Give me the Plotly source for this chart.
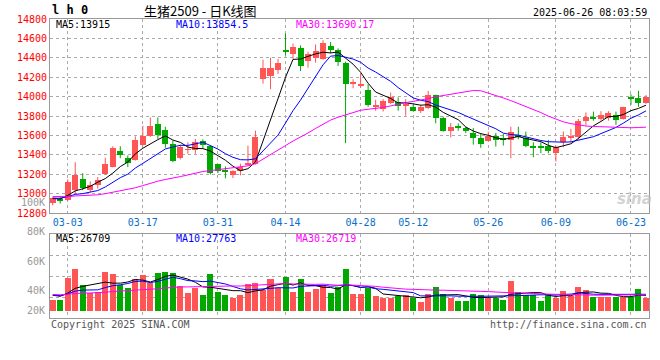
import plotly.graph_objects as go
import pandas as pd

# ---------------- data ----------------
dates = ["02-27", "02-28",
         "03-03", "03-04", "03-05", "03-06", "03-07", "03-10", "03-11", "03-12", "03-13", "03-14",
         "03-17", "03-18", "03-19", "03-20", "03-21", "03-24", "03-25", "03-26", "03-27", "03-28", "03-31",
         "04-01", "04-02", "04-03", "04-07", "04-08", "04-09", "04-10", "04-11", "04-14", "04-15", "04-16",
         "04-17", "04-18", "04-21", "04-22", "04-23", "04-24", "04-25", "04-28", "04-29", "04-30",
         "05-06", "05-07", "05-08", "05-09", "05-12", "05-13", "05-14", "05-15", "05-16", "05-19", "05-20",
         "05-21", "05-22", "05-23", "05-26", "05-27", "05-28", "05-29", "05-30",
         "06-03", "06-04", "06-05", "06-06", "06-09", "06-10", "06-11", "06-12", "06-13", "06-16", "06-17",
         "06-18", "06-19", "06-20", "06-23", "06-24", "06-25"]

opens = [12903, 12949, 12931, 13038, 13154, 13034, 13085, 13205, 13275, 13444,
         13369, 13349, 13500, 13591, 13720, 13656, 13513, 13372, 13450, 13451,
         13547, 13495, 13301, 13239, 13190, 13235, 13305, 13308, 14179, 14213,
         14275, 14480, 14442, 14504, 14367, 14401, 14385, 14521, 14477, 14350,
         14128, 14118, 14067, 13900, 13872, 13933, 13947, 13912, 13895, 13854,
         13878, 14016, 13779, 13642, 13686, 13673, 13622, 13574, 13547, 13598,
         13574, 13554, 13608, 13574, 13495, 13480, 13495, 13416, 13529, 13578,
         13588, 13745, 13793, 13769, 13779, 13813, 13769, 13998, 13981, 13930]
highs = [12960, 12972, 13147, 13324, 13211, 13126, 13170, 13370, 13488, 13488,
         13393, 13590, 13700, 13786, 13786, 13690, 13547, 13503, 13529, 13564,
         13560, 13500, 13305, 13280, 13240, 13308, 13495, 13649, 14380, 14401,
         14388, 14650, 14547, 14528, 14463, 14538, 14582, 14562, 14497, 14360,
         14179, 14237, 14128, 13967, 13974, 14042, 13991, 13974, 13916, 13916,
         14060, 14020, 13795, 13728, 13724, 13690, 13677, 13622, 13639, 13625,
         13615, 13690, 13690, 13639, 13529, 13529, 13554, 13495, 13640, 13667,
         13770, 13837, 13845, 13850, 13850, 13845, 13895, 14025, 14060, 14016]
lows = [12880, 12897, 12925, 13000, 13034, 13016, 13051, 13195, 13270, 13365,
        13273, 13340, 13495, 13585, 13564, 13472, 13324, 13352, 13410, 13410,
        13462, 13198, 13211, 13157, 13160, 13188, 13290, 13300, 14134, 14077,
        14234, 14425, 14391, 14265, 14298, 14350, 14380, 14446, 14316, 13520,
        14087, 14093, 13895, 13854, 13847, 13925, 13854, 13803, 13847, 13830,
        13870, 13724, 13639, 13580, 13649, 13625, 13505, 13472, 13540, 13485,
        13495, 13365, 13560, 13478, 13375, 13416, 13416, 13331, 13478, 13529,
        13560, 13700, 13752, 13752, 13752, 13708, 13765, 13916, 13895, 13925]
closes = [12956, 12924, 13119, 13190, 13058, 13085, 13136, 13305, 13470, 13397,
          13320, 13554, 13598, 13700, 13608, 13513, 13341, 13478, 13458, 13536,
          13505, 13215, 13236, 13228, 13230, 13270, 13320, 13588, 14298, 14298,
          14343, 14465, 14514, 14316, 14436, 14470, 14550, 14480, 14360, 14125,
          14155, 14134, 13916, 13905, 13957, 13991, 13906, 13918, 13854, 13888,
          14016, 13779, 13649, 13683, 13682, 13642, 13570, 13513, 13598, 13554,
          13560, 13639, 13591, 13495, 13478, 13476, 13444, 13478, 13588, 13582,
          13752, 13793, 13779, 13813, 13834, 13759, 13895, 13974, 13930, 13998]
volumes = [18400, 18400, 56800, 71700, 44200, 29800, 32700, 67100, 63100, 44200,
           39600, 54500, 61400, 47000, 65400, 67100, 65400, 42500, 31000, 38400,
           27000, 63100, 32700, 27000, 22400, 27000, 45900, 48200, 35600, 54500,
           39600, 58000, 32700, 54500, 32700, 37300, 44200, 31000, 40100, 71700,
           28700, 28700, 38400, 25300, 22400, 22400, 25300, 27000, 21200, 15500,
           28700, 41300, 28700, 22400, 17200, 17200, 28700, 27000, 22400, 22400,
           18400, 51100, 32700, 27000, 27000, 17200, 28700, 22400, 34400, 25800,
           41300, 35600, 24100, 24100, 24100, 24100, 24100, 24100, 37300, 22400]
# sessions before the visible window (only used to seed the moving averages)
pre_closes = [13050, 13020, 12990, 13010, 12970, 12940, 12960, 12985, 13000, 12975,
              12950, 12930, 12955, 12980, 12995, 12970, 12945, 12960, 12990, 12975,
              12955, 12940, 12965, 12980, 12960, 12945, 12935, 12960, 12950]
pre_volumes = [30000, 26000, 31000, 28000, 25000, 33000, 29000, 27000, 24000, 30000,
               28000, 26000, 32000, 29000, 27000, 25000, 30000, 28000, 26000, 31000,
               29000, 27000, 24000, 26000, 30000, 28000, 29000, 31000, 27000]

tick_dates = ["03-03", "03-17", "03-31", "04-14", "04-28", "05-12", "05-26", "06-09", "06-23"]
price_ticks = [12800, 13000, 13200, 13400, 13600, 13800, 14000, 14200, 14400, 14600, 14800]
vol_tick_labels = ["100K", "80K", "60K", "40K", "20K"]
ma_price_labels = ["MA5:13915", "MA10:13854.5", "MA30:13690.17"]
ma_vol_labels = ["MA5:26709", "MA10:27763", "MA30:26719"]

# ---------------- derived ----------------
n_pre = len(pre_closes)
cs = pd.Series(pre_closes + closes)
vs = pd.Series(pre_volumes + volumes)
ma_c = {k: cs.rolling(k).mean().iloc[n_pre:].tolist() for k in (5, 10, 30)}
ma_v = {k: vs.rolling(k).mean().iloc[n_pre:].tolist() for k in (5, 10, 30)}
idx = list(range(len(dates)))

RED = "#ff5555"
GREEN = "#00a800"
MA_COL = {5: "#000000", 10: "#0000ff", 30: "#ff00ff"}
MONO = "DejaVu Sans Mono, Liberation Mono, monospace"

# ---------------- geometry ----------------
W, H = 660, 360
L, R, T, B = 50, 11, 19, 42
PW, PH = W - L - R, H - T - B


def py(ypx):
    return (H - B - ypx) / PH


def pxp(xpx):
    return (xpx - L) / PW


fig = go.Figure()

# wicks
for col, cond in ((RED, lambda o, c: c >= o), (GREEN, lambda o, c: c < o)):
    wx, wy = [], []
    for i in idx:
        if cond(opens[i], closes[i]):
            wx += [i, i, None]
            wy += [lows[i], highs[i], None]
    fig.add_trace(go.Scatter(x=wx, y=wy, mode="lines", line=dict(color=col, width=1),
                             hoverinfo="skip", showlegend=False, xaxis="x", yaxis="y"))

# bodies
body_base = [min(o, c) for o, c in zip(opens, closes)]
body_h = [max(abs(c - o), 9) for o, c in zip(opens, closes)]
body_col = [RED if c >= o else GREEN for o, c in zip(opens, closes)]
fig.add_trace(go.Bar(x=idx, y=body_h, base=body_base, width=0.8,
                     marker=dict(color=body_col, line=dict(width=0)),
                     showlegend=False, xaxis="x", yaxis="y"))

# price MAs
for k in (5, 10, 30):
    fig.add_trace(go.Scatter(x=idx, y=ma_c[k], mode="lines",
                             line=dict(color=MA_COL[k], width=1),
                             showlegend=False, xaxis="x", yaxis="y"))

# volume bars
fig.add_trace(go.Bar(x=idx, y=volumes, width=0.8,
                     marker=dict(color=body_col, line=dict(width=0)),
                     showlegend=False, xaxis="x2", yaxis="y2"))
for k in (5, 10, 30):
    fig.add_trace(go.Scatter(x=idx, y=ma_v[k], mode="lines",
                             line=dict(color=MA_COL[k], width=1),
                             showlegend=False, xaxis="x2", yaxis="y2"))

tickvals = [dates.index(d) for d in tick_dates]
xr = [-0.36, 79.4]
vol_range = [-12556, 131924]
vol_grid = [vol_range[0] + q * (vol_range[1] - vol_range[0]) / 4 for q in (1, 2, 3)]

grid = dict(showgrid=True, gridcolor="#aaaaaa", griddash="dot", gridwidth=1)
border = dict(showline=True, linecolor="#999999", linewidth=1, mirror=True, zeroline=False)

fig.update_layout(
    width=W, height=H, margin=dict(l=L, r=R, t=T, b=B),
    paper_bgcolor="white", plot_bgcolor="white", bargap=0, barmode="overlay",
    xaxis=dict(domain=[0, 1], range=xr, tickvals=tickvals, ticktext=tick_dates,
               tickfont=dict(family=MONO, size=10, color="#0a6fc8"), ticks="",
               anchor="y", **grid, **border),
    yaxis=dict(domain=[py(213), 1], range=[12800, 14800], tickvals=price_ticks,
               ticktext=[str(v) for v in price_ticks],
               tickfont=dict(family=MONO, size=10, color="#ff0000"), ticks="",
               anchor="x", **grid, **border),
    xaxis2=dict(domain=[0, 1], range=xr, tickvals=tickvals, showticklabels=False,
                ticks="", anchor="y2", **grid, **border),
    yaxis2=dict(domain=[0, py(234)], range=vol_range, tickvals=vol_grid,
                showticklabels=False, ticks="", anchor="x2", **grid, **border),
    font=dict(family=MONO, size=10),
)

ann = []
# header
ann.append(dict(text="<b>l h 0</b>", x=pxp(50), y=py(10.5), xanchor="left", yanchor="middle",
                font=dict(family=MONO, size=12, color="black")))
ann.append(dict(text="生猪2509 - 日K线图", x=pxp(200), y=py(10.5), xanchor="center", yanchor="middle",
                font=dict(family="Noto Sans CJK SC", size=13, color="black")))
ann.append(dict(text="2025-06-26 08:03:59", x=pxp(649), y=py(12), xanchor="right", yanchor="middle",
                font=dict(family=MONO, size=10, color="black")))
# MA labels
for lab, xp, k in zip(ma_price_labels, (54, 174, 294), (5, 10, 30)):
    ann.append(dict(text=lab, x=pxp(xp), y=py(25), xanchor="left", yanchor="middle",
                    font=dict(family=MONO, size=10, color=MA_COL[k])))
for lab, xp, k in zip(ma_vol_labels, (54, 174, 294), (5, 10, 30)):
    ann.append(dict(text=lab, x=pxp(xp), y=py(238.5), xanchor="left", yanchor="middle",
                    font=dict(family=MONO, size=10, color=MA_COL[k])))
# volume axis labels
for lab, ypx in zip(vol_tick_labels, (202, 231, 261, 290, 310)):
    ann.append(dict(text=lab, x=pxp(47), y=py(ypx), xanchor="right", yanchor="middle",
                    font=dict(family=MONO, size=10, color="#999999")))
# footer
ann.append(dict(text="Copyright 2025 SINA.COM", x=pxp(49), y=py(324), xanchor="left", yanchor="middle",
                font=dict(family=MONO, size=10, color="#555555")))
ann.append(dict(text="http://finance.sina.com.cn", x=pxp(649), y=py(324), xanchor="right", yanchor="middle",
                font=dict(family=MONO, size=10, color="#555555")))
# watermark
ann.append(dict(text="sina", x=pxp(634), y=py(199), xanchor="center", yanchor="middle",
                font=dict(family="DejaVu Sans", size=15, color="rgba(190,190,190,0.7)",
                          style="italic", weight="bold")))
for a in ann:
    a.update(xref="paper", yref="paper", showarrow=False)
fig.update_layout(annotations=ann)

fig.write_html("out.html", config={"displayModeBar": False},
               post_script="document.body.style.margin='0';")
